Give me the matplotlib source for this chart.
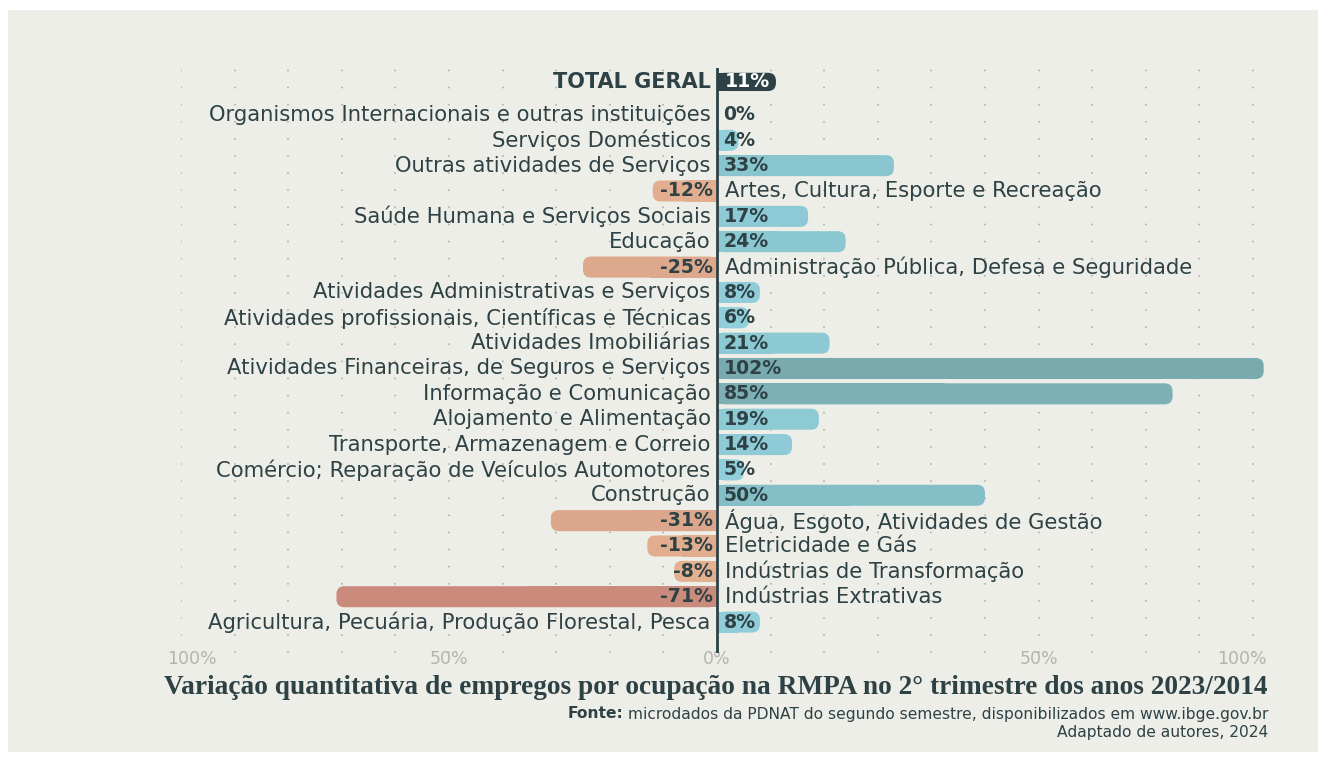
import matplotlib
matplotlib.use("Agg")
import matplotlib.pyplot as plt
from matplotlib.patches import FancyBboxPatch, Rectangle
from matplotlib.colors import LinearSegmentedColormap

# dados (variação % 2023/2014)
categorias = [
    "Agricultura, Pecuária, Produção Florestal, Pesca",
    "Indústrias Extrativas",
    "Indústrias de Transformação",
    "Eletricidade e Gás",
    "Água, Esgoto, Atividades de Gestão",
    "Construção",
    "Comércio; Reparação de Veículos Automotores",
    "Transporte, Armazenagem e Correio",
    "Alojamento e Alimentação",
    "Informação e Comunicação",
    "Atividades Financeiras, de Seguros e Serviços",
    "Atividades Imobiliárias",
    "Atividades profissionais, Científicas e Técnicas",
    "Atividades Administrativas e Serviços",
    "Administração Pública, Defesa e Seguridade",
    "Educação",
    "Saúde Humana e Serviços Sociais",
    "Artes, Cultura, Esporte e Recreação",
    "Outras atividades de Serviços",
    "Serviços Domésticos",
    "Organismos Internacionais e outras instituições",
]
variacao = [8, -71, -8, -13, -31, 50, 5, 14, 19, 85, 102, 21, 6, 8, -25, 24, 17, -12, 33, 4, 0]
total_label = "TOTAL GERAL"
total_valor = 11

tick_pos = [-98, -50, 0, 60, 98]
tick_txt = ["100%", "50%", "0%", "50%", "100%"]

escuro = "#2E4246"
fundo = "#EEEEE8"
cmap_pos = LinearSegmentedColormap.from_list("pos", ["#92D0DC", "#84BFC7", "#79AAAE"])
cmap_neg = LinearSegmentedColormap.from_list("neg", ["#E6B392", "#D9A389", "#C8887A"])

W, H = 1320, 757
fig = plt.figure(figsize=(W / 100, H / 100), dpi=100, facecolor="white")
fig.patches.append(Rectangle((8 / W, 1 - 752 / H), 1310 / W, 742 / H, transform=fig.transFigure,
                             facecolor=fundo, edgecolor="none", zorder=-10))

# eixo: 0% em x=717px, 5.36 px por ponto percentual
ax = fig.add_axes([181 / W, 1 - 652.5 / H, (5.36 * 204) / W, (652.5 - 68) / H])
ax.set_xlim(-100, 104)
ax.set_ylim(-1.2, 21.85)
ax.patch.set_visible(False)
for s in ax.spines.values():
    s.set_visible(False)

# grade pontilhada
for g in range(-100, 101, 10):
    if g == 0:
        continue
    ax.axvline(g, color="#B8B8B0", lw=1.4, linestyle=(0, (0.8, 8)), zorder=0)
ax.axvline(0, color=escuro, lw=2.0, zorder=5)

px_x = 5.36
px_y = 25.35
asp = px_x / px_y
r = 8 / px_x

ys = list(range(len(categorias)))
y_total = 20 + 33 / px_y


def barra(y, v, cor, h):
    if v == 0:
        return
    x0 = min(0, v)
    p = FancyBboxPatch((x0, y - h / 2), abs(v), h, boxstyle=f"round,pad=0,rounding_size={r}",
                       mutation_aspect=asp, facecolor=cor, edgecolor="none", zorder=2)
    ax.add_patch(p)
    ax.barh(y, v / 2, height=h, left=0, color=cor, zorder=2)


fs = 15.2
fsv = 13.6
for y, cat, v in zip(ys, categorias, variacao):
    if v >= 0:
        cor = cmap_pos(min(v, 100) / 100)
        barra(y, v, cor, 0.83)
        ax.text(-1.2, y, cat, ha="right", va="center", fontsize=fs, color=escuro, zorder=6)
        ax.text(1.2, y, f"{v}%", ha="left", va="center", fontsize=fsv, fontweight="bold",
                color=escuro, zorder=6)
    else:
        cor = cmap_neg(min(-v, 75) / 75)
        barra(y, v, cor, 0.83)
        ax.text(-0.8, y, f"{v}%", ha="right", va="center", fontsize=fsv, fontweight="bold",
                color=escuro, zorder=6)
        ax.text(1.4, y, cat, ha="left", va="center", fontsize=fs, color=escuro, zorder=6)

barra(y_total, total_valor, escuro, 0.72)
ax.text(-1.2, y_total, total_label, ha="right", va="center", fontsize=15, fontweight="bold",
        color=escuro, zorder=6)
ax.text(1.5, y_total, f"{total_valor}%", ha="left", va="center", fontsize=fsv, fontweight="bold",
        color="white", zorder=6)

ax.set_yticks([])
ax.set_xticks(tick_pos)
ax.set_xticklabels(tick_txt, fontsize=12.5, color="#B4B4AE")
ax.tick_params(axis="x", length=0, pad=-2)

# título e fonte
fig.text(1268 / W, 1 - 687 / H,
         "Variação quantitativa de empregos por ocupação na RMPA no 2° trimestre dos anos 2023/2014",
         ha="right", va="center", fontsize=19.7, fontweight="bold", color=escuro,
         family=["Liberation Serif", "DejaVu Serif"])

fig.canvas.draw()
t1 = fig.text(1268 / W, 1 - 714 / H, "microdados da PDNAT do segundo semestre, disponibilizados em www.ibge.gov.br",
              ha="right", va="center", fontsize=11.2, color=escuro)
fig.canvas.draw()
bb = t1.get_window_extent()
fig.text((bb.x0 - 4) / W, 1 - 714 / H, "Fonte:", ha="right", va="center", fontsize=11.2,
         fontweight="bold", color=escuro)
fig.text(1268 / W, 1 - 732 / H, "Adaptado de autores, 2024", ha="right", va="center",
         fontsize=11.2, color=escuro)

fig.savefig("out.png", dpi=100, facecolor="white")
